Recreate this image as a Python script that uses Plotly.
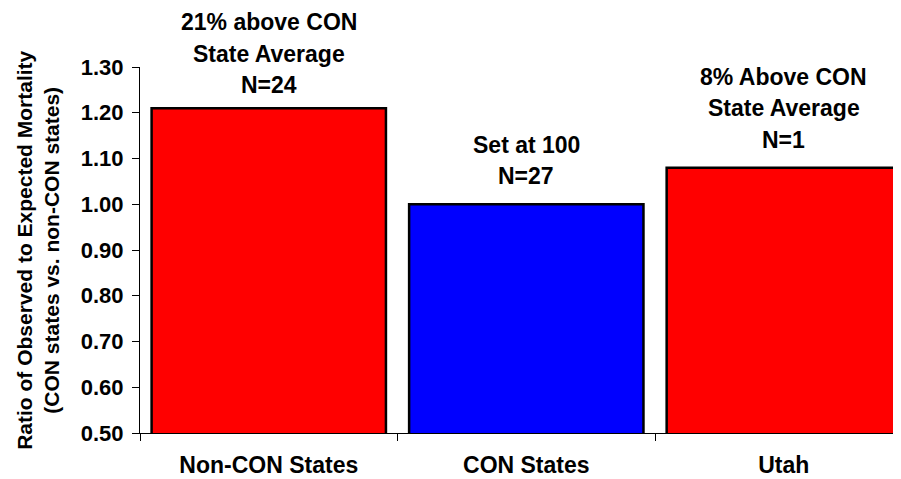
import plotly.graph_objects as go

categories = ["Non-CON States", "CON States", "Utah"]
values = [1.21, 1.00, 1.08]
bar_colors = ["#FF0000", "#0000FF", "#FF0000"]
bar_notes = [
    ["21% above CON", "State Average", "N=24"],
    ["Set at 100", "N=27"],
    ["8% Above CON", "State Average", "N=1"],
]
note_base = [23, 28, 28]
y_ticks = [0.5, 0.6, 0.7, 0.8, 0.9, 1.0, 1.1, 1.2, 1.3]
y_title = "Ratio of Observed to Expected Mortality<br>(CON states vs. non-CON states)"

FONT = "Arial, Liberation Sans, sans-serif"

fig = go.Figure()
fig.add_trace(go.Bar(
    x=categories, y=values,
    marker=dict(color=bar_colors, line=dict(color="black", width=2.5)),
))

annotations = []
for cat, val, lines, b in zip(categories, values, bar_notes, note_base):
    n = len(lines)
    for i, txt in enumerate(lines):
        k = n - 1 - i
        annotations.append(dict(
            x=cat, y=val, xref="x", yref="y", text=txt, showarrow=False,
            yshift=b + 31.5 * k, yanchor="middle", xanchor="center",
            font=dict(family=FONT, size=23, color="black", weight="bold"),
        ))

annotations.append(dict(
    xref="paper", yref="paper", x=-0.1343, y=0.5, text=y_title, showarrow=False,
    textangle=-90, xanchor="center", yanchor="middle",
    font=dict(family=FONT, size=21, color="black", weight="bold"),
))

# page body has an 8px margin, so the figure is sized to fill the rest of the window
fig.update_layout(
    width=893, height=471,
    margin=dict(l=132, r=0, t=59, b=46, pad=0),
    paper_bgcolor="white", plot_bgcolor="white",
    bargap=0.09,
    showlegend=False,
    annotations=annotations,
    xaxis=dict(
        type="category", range=[-0.5, 2.455],
        tickson="boundaries", ticks="outside", ticklen=7, tickcolor="black",
        showline=True, linecolor="black", linewidth=1,
        showgrid=False, zeroline=False,
        tickfont=dict(family=FONT, size=23, color="black", weight="bold"),
        ticklabelstandoff=11,
    ),
    yaxis=dict(
        range=[0.5, 1.3], tickvals=y_ticks, tickformat=".2f",
        ticks="outside", ticklen=7, tickcolor="black",
        showline=True, linecolor="black", linewidth=1,
        showgrid=False, zeroline=False,
        tickfont=dict(family=FONT, size=22, color="black", weight="bold"),
        ticklabelstandoff=4,
    ),
)

fig.write_html("out.html")
